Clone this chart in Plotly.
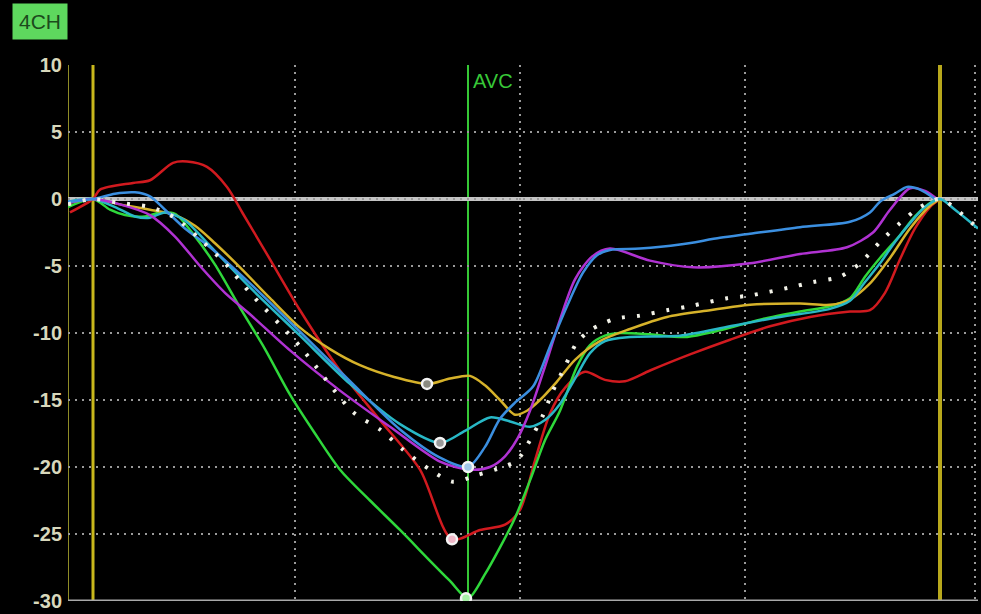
import plotly.graph_objects as go

# ---- data (x = time in samples, y = longitudinal strain %) ----
red_x = [2, 25, 32, 65, 82, 105, 119, 139, 159, 175, 202, 232, 272, 312, 352, 384, 412, 437, 452, 467, 482, 497, 517, 537, 557, 582, 622, 662, 702, 742, 782, 802, 817, 832, 847, 862, 872]
red_y = [-1.0, 0, 0.7, 1.2, 1.4, 2.7, 2.8, 2.4, 0.9, -1.1, -4.5, -8.3, -12.8, -16.5, -20.2, -25.4, -24.7, -24.3, -23.2, -19.5, -16.0, -14.1, -12.9, -13.5, -13.6, -12.8, -11.6, -10.5, -9.5, -8.8, -8.4, -8.3, -7.0, -4.5, -2.2, -0.6, 0]

green_x = [0, 25, 42, 57, 77, 92, 107, 127, 147, 172, 197, 222, 247, 272, 302, 332, 362, 382, 400, 417, 432, 447, 462, 477, 492, 509, 522, 537, 552, 582, 617, 652, 692, 732, 762, 782, 797, 812, 832, 847, 862, 872]
green_y = [-0.6, 0, -0.8, -1.2, -1.3, -1.0, -1.1, -2.8, -4.9, -8.1, -11.2, -14.6, -17.5, -20.2, -22.5, -24.7, -27.0, -28.5, -29.8, -28.0, -26.0, -23.8, -21.0, -18.0, -15.8, -12.5, -10.9, -10.2, -10.0, -10.1, -10.3, -9.8, -9.0, -8.4, -8.0, -7.4, -5.8, -4.4, -2.7, -1.3, -0.3, 0]

yellow_x = [0, 25, 52, 82, 107, 127, 147, 172, 202, 232, 262, 292, 327, 360, 382, 402, 417, 432, 447, 459, 472, 487, 507, 532, 562, 599, 642, 682, 732, 762, 782, 802, 822, 842, 862, 872]
yellow_y = [-0.3, 0, -0.4, -0.8, -1.2, -2.0, -3.3, -5.1, -7.4, -9.6, -11.2, -12.4, -13.3, -13.8, -13.4, -13.2, -13.9, -15.0, -16.1, -15.8, -15.0, -13.8, -12.0, -10.6, -9.7, -8.8, -8.3, -7.9, -7.8, -7.9, -7.5, -6.3, -4.4, -2.2, -0.5, 0]

blue_x = [0, 25, 47, 67, 82, 97, 117, 142, 182, 232, 282, 332, 372, 400, 417, 432, 447, 465, 482, 499, 515, 529, 542, 572, 612, 652, 682, 732, 782, 802, 812, 827, 839, 852, 867]
blue_y = [-0.2, 0, 0.4, 0.5, 0.2, -0.8, -2.2, -3.6, -6.3, -9.9, -13.6, -17.2, -19.3, -20.0, -18.5, -16.4, -15.2, -14.0, -11.0, -8.0, -5.5, -4.2, -3.8, -3.7, -3.4, -2.9, -2.6, -2.1, -1.7, -1.0, -0.2, 0.4, 0.9, 0.7, 0]

teal_x = [0, 25, 47, 67, 82, 97, 117, 142, 182, 232, 282, 332, 372, 397, 422, 442, 462, 477, 492, 507, 522, 537, 562, 612, 662, 712, 762, 782, 797, 812, 827, 842, 857, 872, 887, 910]
teal_y = [-0.2, 0, -0.6, -1.3, -1.4, -1.0, -1.6, -3.5, -6.6, -10.2, -13.8, -16.8, -18.2, -17.3, -16.3, -16.6, -17.0, -16.5, -15.3, -13.4, -11.5, -10.6, -10.3, -10.2, -9.5, -8.8, -8.2, -7.6, -6.2, -4.8, -3.2, -1.8, -0.6, 0, -0.8, -2.2]

magenta_x = [0, 25, 52, 82, 107, 132, 157, 182, 222, 272, 322, 372, 402, 422, 437, 450, 462, 477, 492, 507, 524, 542, 582, 625, 682, 732, 779, 805, 822, 842, 857, 869]
magenta_y = [-0.3, 0, -0.4, -1.2, -2.8, -5.0, -7.0, -8.6, -11.3, -14.3, -17.0, -19.6, -20.2, -20.0, -19.2, -17.8, -15.8, -12.5, -9.0, -6.0, -4.3, -3.7, -4.6, -5.1, -4.8, -4.1, -3.6, -2.5, -0.8, 0.8, 0.6, 0]

avg_x = [0, 25, 52, 82, 107, 132, 157, 182, 232, 285, 312, 335, 362, 385, 409, 435, 449, 462, 474, 485, 497, 509, 522, 535, 549, 572, 599, 622, 659, 682, 722, 745, 772, 792, 812, 832, 852, 872, 892, 910]
avg_y = [-0.4, 0, -0.3, -0.6, -1.4, -3.0, -4.8, -7.0, -11.0, -15.9, -17.2, -18.7, -20.2, -21.1, -20.6, -20.0, -19.5, -18.0, -16.3, -14.3, -12.5, -10.7, -9.8, -9.3, -8.9, -8.7, -8.3, -8.0, -7.4, -7.2, -6.6, -6.2, -5.8, -4.8, -3.2, -1.8, -0.6, 0, -1.0, -2.2]

# peak markers (series, x, y)
peak_names = ["yellow", "teal", "red", "blue", "green"]
peak_x = [359, 372, 384, 400, 398]
peak_y = [-13.8, -18.2, -25.4, -20.0, -29.8]

y_ticks = [10, 5, 0, -5, -10, -15, -20, -25, -30]
y_tick_text = ["10", "5", "0", "-5", "-10", "-15", "-20", "-25", "-30"]
grid_x = [227, 452, 677, 907]

avc_x = 400
frame_start_x = 25
frame_end_x = 872

colors = {
    "red": "#d11a1f",
    "green": "#2fd83b",
    "yellow": "#d6b22a",
    "blue": "#3b8fe0",
    "teal": "#28b8c6",
    "magenta": "#b032d2",
}
marker_fill = {
    "red": "#f0b8c8",
    "green": "#a8f0a8",
    "yellow": "#8a8a80",
    "blue": "#a0c8e8",
    "teal": "#9a9a9a",
}

fig = go.Figure()

shapes = [
    dict(type="line", xref="x", yref="paper", x0=0, x1=0, y0=0, y1=1,
         line=dict(color="#8f8c26", width=2), layer="below"),
    dict(type="line", xref="x", yref="paper", x0=frame_start_x, x1=frame_start_x, y0=0, y1=1,
         line=dict(color="#c9b81c", width=3), layer="below"),
    dict(type="line", xref="x", yref="paper", x0=frame_end_x, x1=frame_end_x, y0=0, y1=1,
         line=dict(color="#b8a81c", width=4), layer="below"),
    dict(type="line", xref="x", yref="paper", x0=avc_x, x1=avc_x, y0=0, y1=1,
         line=dict(color="#36c836", width=2), layer="below"),
    dict(type="line", xref="paper", yref="y", x0=0, x1=1, y0=0, y1=0,
         line=dict(color="#c4c4c4", width=4), layer="below"),
    dict(type="line", xref="paper", yref="y", x0=0, x1=1, y0=-30, y1=-30,
         line=dict(color="#a8a8a8", width=3), layer="below"),
]

series = [
    ("red", red_x, red_y),
    ("green", green_x, green_y),
    ("yellow", yellow_x, yellow_y),
    ("teal", teal_x, teal_y),
    ("magenta", magenta_x, magenta_y),
    ("blue", blue_x, blue_y),
]
for name, xs, ys in series:
    fig.add_trace(go.Scatter(x=xs, y=ys, mode="lines", name=name,
                             line=dict(color=colors[name], width=2.5, shape="spline", smoothing=0.8),
                             hoverinfo="skip"))

fig.add_trace(go.Scatter(x=avg_x, y=avg_y, mode="lines", name="average",
                         line=dict(color="#f2f2e8", width=4, dash="3px,12px", shape="spline", smoothing=0.8),
                         hoverinfo="skip"))

fig.add_trace(go.Scatter(x=peak_x, y=peak_y, mode="markers", name="peaks",
                         marker=dict(size=10, color=[marker_fill[n] for n in peak_names],
                                     line=dict(color="#f4f4f4", width=2.5)),
                         hoverinfo="skip"))

fig.update_layout(
    width=981, height=614,
    margin=dict(l=68, r=3, t=65, b=13),
    paper_bgcolor="#000000",
    plot_bgcolor="#000000",
    showlegend=False,
    shapes=shapes,
    xaxis=dict(range=[0, 910], showticklabels=False, ticks="",
               tickvals=grid_x, showgrid=True, gridcolor="#9a9a9a", gridwidth=2,
               griddash="2px,5px", zeroline=False, showline=False, fixedrange=True),
    yaxis=dict(range=[-30, 10], tickvals=y_ticks, ticktext=y_tick_text,
               showgrid=True, gridcolor="#9a9a9a", gridwidth=2, griddash="2px,5px",
               zeroline=False, showline=False, ticks="", ticklabelstandoff=5,
               tickfont=dict(family="Liberation Sans", size=20, color="#d8d8bc", weight="bold"),
               fixedrange=True),
    annotations=[
        dict(text="4CH", xref="paper", yref="paper", x=-0.0308, y=1.082,
             xanchor="center", yanchor="middle", showarrow=False,
             font=dict(family="Liberation Sans", size=21, color="#1c4a1c"),
             bgcolor="#5ed85e", borderpad=6),
        dict(text="AVC", xref="x", yref="paper", x=avc_x + 3, y=0.995,
             xanchor="left", yanchor="top", showarrow=False,
             font=dict(family="Liberation Sans", size=20, color="#38c838")),
    ],
)

fig.write_html("out.html", config={"displayModeBar": False, "staticPlot": True},
               post_script="document.body.style.margin='0';document.body.style.overflow='hidden';")
